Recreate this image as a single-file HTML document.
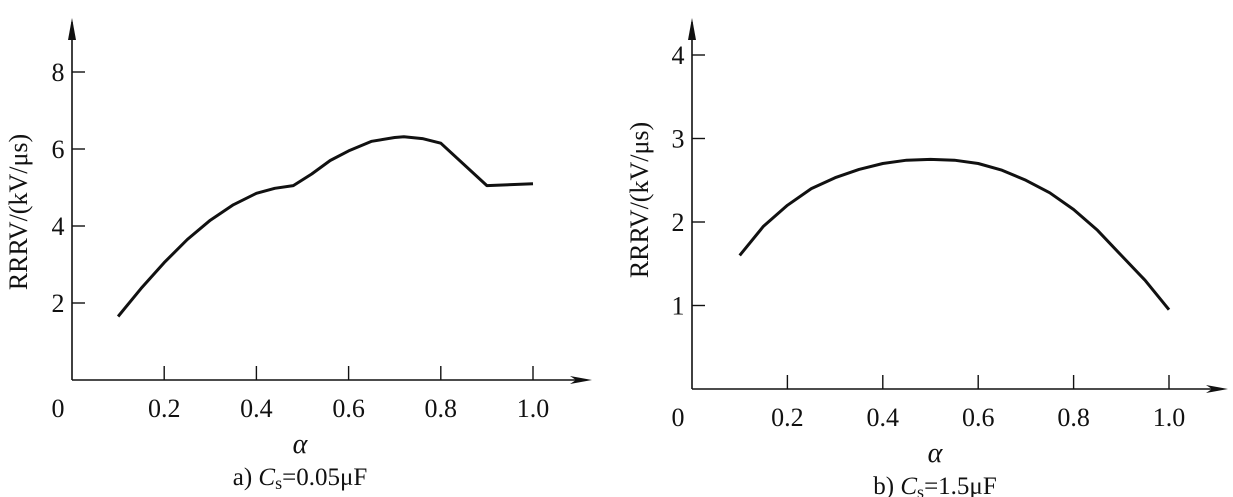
<!DOCTYPE html>
<html><head><meta charset="utf-8"><style>
html,body{margin:0;padding:0;background:#fff;}
svg{display:block;font-family:"Liberation Serif",serif;}
</style></head><body>
<svg id="c" width="1233" height="497" viewBox="0 0 1233 497"></svg>
<script>
const xTicks=[0.2,0.4,0.6,0.8,1.0];
const xTickLabels=["0.2","0.4","0.6","0.8","1.0"];
const aYTicks=[2,4,6,8];
const aX=[0.1,0.15,0.2,0.25,0.3,0.35,0.4,0.44,0.48,0.52,0.56,0.6,0.65,0.7,0.72,0.76,0.8,0.9,1.0];
const aY=[1.65,2.38,3.05,3.65,4.15,4.55,4.85,4.98,5.05,5.35,5.7,5.95,6.2,6.3,6.32,6.27,6.15,5.05,5.1];
const bYTicks=[1,2,3,4];
const bX=[0.1,0.15,0.2,0.25,0.3,0.35,0.4,0.45,0.5,0.55,0.6,0.65,0.7,0.75,0.8,0.85,0.9,0.95,1.0];
const bY=[1.6,1.95,2.2,2.4,2.53,2.63,2.7,2.74,2.75,2.74,2.7,2.62,2.5,2.35,2.15,1.9,1.6,1.3,0.95];
const NS="http://www.w3.org/2000/svg";
const svg=document.getElementById('c');
function mk(t,a,p){const e=document.createElementNS(NS,t);for(const k in a)e.setAttribute(k,a[k]);(p||svg).appendChild(e);return e;}
function panel(o){
  const g=mk('g',{});
  
  
  const sx=v=>o.x0+(v-0)*(o.x1-o.x0)/1.0;
  const sy=v=>o.y0-v*o.ky;
  let e=mk('line',{x1:o.x0,y1:o.y0,x2:o.x0,y2:22,stroke:'#111','stroke-width':1.6},g);
  
  e=mk('path',{d:`M${o.x0-4},${40} L${o.x0},${18} L${o.x0+4},${40} Z`,fill:'#111'},g);
  
  e=mk('line',{x1:o.x0,y1:o.y0,x2:o.xEnd-6,y2:o.y0,stroke:'#111','stroke-width':1.6},g);
  
  e=mk('path',{d:`M${o.xEnd-22},${o.y0-4} L${o.xEnd},${o.y0} L${o.xEnd-22},${o.y0+4} L${o.xEnd-16},${o.y0} Z`,fill:'#111'},g);
  
  xTicks.forEach((v,i)=>{
    e=mk('line',{x1:sx(v),y1:o.y0,x2:sx(v),y2:o.y0-14,stroke:'#111','stroke-width':1.4},g);
    
    e=mk('text',{x:sx(v),y:o.y0+37,'font-size':26,'text-anchor':'middle',fill:'#111'},g);
    e.textContent=xTickLabels[i];
    
  });
  e=mk('text',{x:o.x0-14,y:o.y0+37,'font-size':26,'text-anchor':'middle',fill:'#111'},g);
  e.textContent='0';
  o.yt.forEach(v=>{
    e=mk('line',{x1:o.x0,y1:sy(v),x2:o.x0+13,y2:sy(v),stroke:'#111','stroke-width':1.4},g);
    
    e=mk('text',{x:o.x0-14,y:sy(v)+9,'font-size':26,'text-anchor':'middle',fill:'#111'},g);
    e.textContent=String(v);
    
  });
  e=mk('text',{x:0,y:0,'font-size':26,'text-anchor':'middle',fill:'#111',transform:`translate(${o.titleX},${o.titleY}) rotate(-90)`},g);
  e.textContent='RRRV/(kV/μs)';
  
  e=mk('text',{x:o.ax,y:o.y0+73,'font-size':28,'font-style':'italic','text-anchor':'middle',fill:'#111'},g);
  e.textContent='α';
  e=mk('text',{x:o.ax,y:o.y0+105,'font-size':25,'text-anchor':'middle',fill:'#111'},g);
  e.innerHTML=o.cap;
  const pts=o.xs.map((v,i)=>sx(v).toFixed(1)+','+sy(o.ys[i]).toFixed(1)).join(' ');
  e=mk('polyline',{points:pts,fill:'none',stroke:'#111','stroke-width':3,'stroke-linejoin':'round'},g);
  
}
panel({name:'panel-a',x0:72,x1:533,y0:380,ky:38.5,xEnd:592,yt:aYTicks,xs:aX,ys:aY,titleX:27,titleY:212,ax:300,
  cap:'a) <tspan font-style="italic">C</tspan><tspan font-size="18" dy="4">s</tspan><tspan dy="-4">=0.05μF</tspan>'});
panel({name:'panel-b',x0:692,x1:1169,y0:389,ky:83.5,xEnd:1228,yt:bYTicks,xs:bX,ys:bY,titleX:648,titleY:200,ax:935,
  cap:'b) <tspan font-style="italic">C</tspan><tspan font-size="18" dy="4">s</tspan><tspan dy="-4">=1.5μF</tspan>'});
</script>
</body></html>
